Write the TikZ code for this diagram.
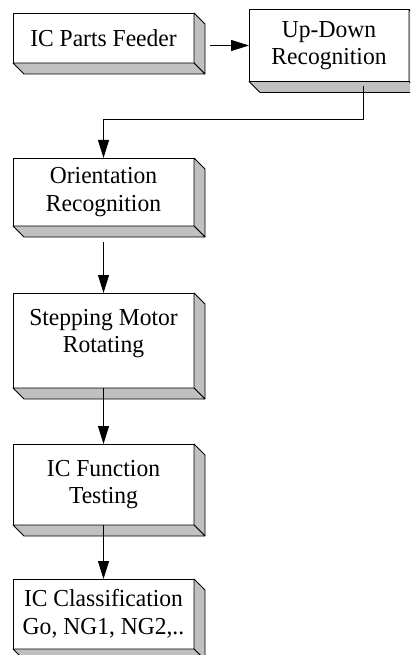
\documentclass[tikz,border=0pt]{standalone}
\usepackage{fontspec}
\setmainfont[FakeStretch=0.965]{Liberation Serif}
\usepackage{tikz}
\usetikzlibrary{calc,arrows.meta}
\definecolor{slabgray}{HTML}{C0C0C0}
% grey side and bottom faces behind a box
\newcommand{\slab}[1]{\filldraw[slabgray,draw=black,line width=0.8pt,line join=bevel] (#1.north east) -- ++(11,11) -- ($(#1.south east)+(11,11)$) -- (#1.south east) -- cycle;
  \filldraw[slabgray,draw=black,line width=0.8pt,line join=bevel] (#1.south west) -- ++(11,11) -- ($(#1.south east)+(11,11)$) -- (#1.south east) -- cycle;}
\tikzset{stage/.style={draw,fill=white,line width=0.8pt,inner sep=0pt,outer sep=0pt,align=center,
    minimum width=181pt,font=\fontsize{24.4}{27.5}\selectfont},
  flow/.style={line width=0.9pt,-{Triangle[length=18pt,width=11pt]}}}

\begin{document}
\begin{tikzpicture}[x=1pt,y=-1pt]
\clip (0,0) rectangle (410,655);
\node[stage,minimum height=50pt] (feeder) at (103.5,38) {IC Parts Feeder};
\node[stage,minimum width=160pt,minimum height=72pt] (updown) at (329,45.5) {Up-Down\\Recognition};
\node[stage,minimum height=68pt] (orient) at (103.5,192) {Orientation\\Recognition};
\node[stage,minimum height=95pt] (stepper) at (103.5,340.5) {Stepping Motor\\Rotating\\[-8pt]};
\node[stage,minimum height=81pt] (testing) at (103.5,484.5) {IC Function\\Testing};
\node[stage,minimum height=70pt] (classify) at (103.5,614) {IC Classification\\Go, NG1, NG2,..};
\slab{feeder} \slab{updown} \slab{orient} \slab{stepper} \slab{testing} \slab{classify}
% connectors
\draw[flow,shorten <=16pt] (feeder.east |- updown.west) -- (updown.west);
\draw[flow] ([xshift=34pt,yshift=-5pt]updown.south) |- ([yshift=39pt]orient.north) -- (orient.north);
\draw[flow,shorten <=16pt] (orient.south) -- (stepper.north);
\draw[flow] (stepper.south) -- (testing.north);
\draw[flow] (testing.south) -- (classify.north);
\end{tikzpicture}
\end{document}
